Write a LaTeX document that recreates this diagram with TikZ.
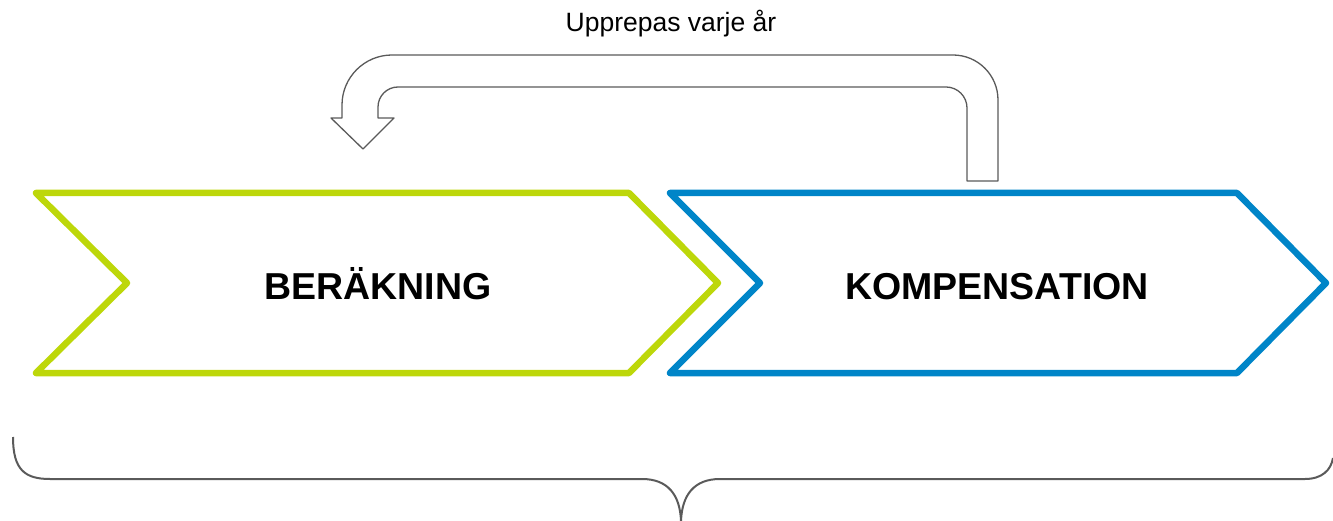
\documentclass[tikz,border=0pt]{standalone}
\usepackage{fontspec}
\setmainfont{Liberation Sans}
\usepackage{xcolor}
\definecolor{limegreen}{HTML}{BDD70A}
\definecolor{oceanblue}{HTML}{0085C8}
\definecolor{loopgray}{HTML}{5A5A5A}

\begin{document}
\begin{tikzpicture}[x=1pt, y=-1pt, line join=round,
    chev/.style = {line width=6.5pt},
    label/.style = {font=\fontsize{37.5}{40}\selectfont\bfseries, inner sep=0pt, anchor=base},
    loop/.style = {draw=loopgray, line width=1.3pt, fill=white},
    brace/.style = {draw=loopgray, line width=2pt}]
    \useasboundingbox (0,0) rectangle (1333,521);

    % chevrons
    \draw [chev, limegreen] (36,193) -- (629,193) -- (718,283) -- (629,373) -- (36,373) -- (127,283) -- cycle;
    \draw [chev, oceanblue] (670,193) -- (1237,193) -- (1326,283) -- (1237,373) -- (670,373) -- (760,283) -- cycle;
    \node [label] (ber) at (378,300) {BERÄKNING};
    \node [label] (komp) at (997,300) {KOMPENSATION};

    % loop back arrow
    \node [font=\fontsize{26.5}{28}\selectfont] (rep) at (671,24) {Upprepas varje år};
    \draw [loop] (967,181) -- (998,181) -- (998,100) arc[start angle=0, end angle=-90, radius=45]
        -- (392,55) arc[start angle=-90, end angle=-180, radius=50]
        -- (342,118) -- (331,118) -- (363,149) -- (394,118) -- (378,118)
        -- (378,107) arc[start angle=180, end angle=270, radius=20]
        -- (946,87) arc[start angle=-90, end angle=0, radius=21] -- cycle;

    % brace
    \draw [brace] (13,437) .. controls (13,470) and (25,479) .. (50,479) -- (642,479)
        .. controls (668,479) and (680,495) .. (681,521)
        .. controls (682,495) and (694,479) .. (720,479) -- (1305,479)
        .. controls (1322,479) and (1331,470) .. (1333,458);
\end{tikzpicture}
\end{document}
